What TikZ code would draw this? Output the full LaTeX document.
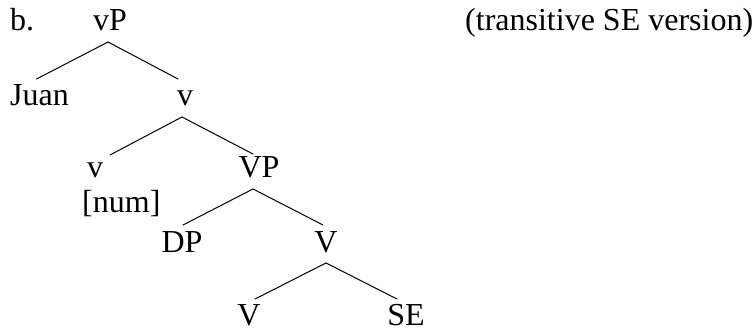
\documentclass[tikz,border=0pt]{standalone}
\usepackage{fontspec}
\setmainfont{Liberation Serif}
\tikzset{
  lbl/.style={inner sep=0pt, anchor=base, font=\fontsize{32}{38}\selectfont},
  branch/.style={line width=1pt, line cap=round}
}
\begin{document}
\begin{tikzpicture}[x=1pt,y=1pt]
\useasboundingbox (0,0) rectangle (752,331);
\node[lbl, anchor=base west] (b) at (10,300) {b.};
\node[lbl] (vP) at (110,300) {vP};
\node[lbl, anchor=base west] (note) at (465,300) {(transitive SE version)};
\node[lbl, anchor=base west] (Juan) at (10,225) {Juan};
\node[lbl] (v1) at (185,225) {v};
\node[lbl] (v2) at (95,153) {v};
\node[lbl] (VP) at (259,153) {VP};
\node[lbl, anchor=base west] (num) at (82,118) {[num]};
\node[lbl] (DP) at (182,78) {DP};
\node[lbl] (V1) at (326,78) {V};
\node[lbl] (V2) at (249,5) {V};
\node[lbl] (SE) at (406,5) {SE};
\draw[branch] ([shift={(-2,-11)}]vP.base) -- ([shift={(-3,27)}]Juan.base);
\draw[branch] ([shift={(-2,-11)}]vP.base) -- ([shift={(-7,27)}]v1.base);
\draw[branch] ([shift={(-3,-11)}]v1.base) -- ([shift={(15,23)}]v2.base);
\draw[branch] ([shift={(-3,-11)}]v1.base) -- ([shift={(-6,24)}]VP.base);
\draw[branch] ([shift={(-6,-11)}]VP.base) -- ([shift={(1,28)}]DP.base);
\draw[branch] ([shift={(-6,-11)}]VP.base) -- ([shift={(-3,28)}]V1.base);
\draw[branch] ([shift={(0,-10)}]V1.base) -- ([shift={(6,27)}]V2.base);
\draw[branch] ([shift={(0,-10)}]V1.base) -- ([shift={(-9,27)}]SE.base);
\end{tikzpicture}
\end{document}
